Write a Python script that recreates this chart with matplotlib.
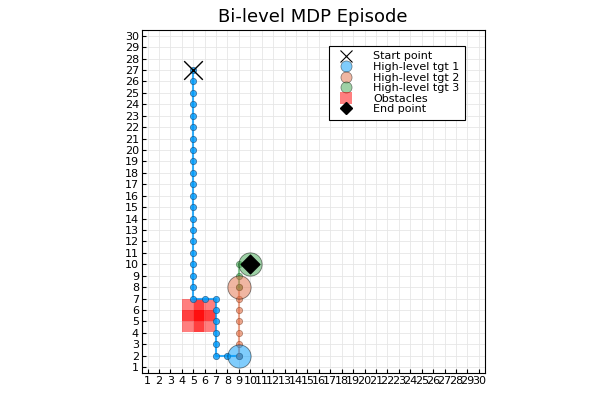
import matplotlib
matplotlib.use("Agg")
import matplotlib.pyplot as plt
from matplotlib.lines import Line2D

path1_x = [5]*21 + [6, 7] + [7]*5 + [8, 9]
path1_y = list(range(27, 6, -1)) + [7, 7] + [6, 5, 4, 3, 2] + [2, 2]
path2_x = [9]*7
path2_y = [2, 3, 4, 5, 6, 7, 8]
path3_x = [9, 9, 9, 10]
path3_y = [8, 9, 10, 10]
start = (5, 27)
tgt1 = (9, 2)
tgt2 = (9, 8)
tgt3 = (10, 10)
end = (10, 10)
obs_x = [5, 5, 6, 6]
obs_y = [5, 6, 5, 6]

blue = '#009AFA'
orange = '#E26F46'
green = '#3EA44E'

fig = plt.figure(figsize=(6, 4), dpi=100)
ax = fig.add_axes([0.233, 0.068, 0.578, 0.857])
ax.set_xlim(0.5, 30.5); ax.set_ylim(0.5, 30.5)
ax.set_aspect('equal', adjustable='box')

ax.scatter(obs_x, obs_y, marker='s', s=240, color='red', alpha=0.5, lw=0, zorder=2)
ax.plot(path1_x, path1_y, '-o', color=blue, ms=4.5, mec='#1a4e7a', mew=0.5, alpha=0.8, zorder=3)
ax.plot(path2_x, path2_y, '-o', color=orange, ms=4.5, mec='#7a3a20', mew=0.5, alpha=0.6, zorder=3)
ax.plot(path3_x, path3_y, '-o', color=green, ms=4.5, mec='#20502a', mew=0.5, alpha=0.6, zorder=3)

ax.scatter(*start, marker='x', s=180, color='black', lw=1, zorder=5)
ax.scatter(*tgt1, s=280, color=blue, alpha=0.5, edgecolor='black', lw=0.6, zorder=4)
ax.scatter(*tgt2, s=280, color=orange, alpha=0.5, edgecolor='black', lw=0.6, zorder=4)
ax.scatter(*tgt3, s=280, color=green, alpha=0.5, edgecolor='black', lw=0.6, zorder=4)
ax.scatter(*end, marker='D', s=90, color='black', zorder=6)

handles = [
    Line2D([], [], ls='', marker='x', ms=9, color='black', mew=0.8, label='Start point'),
    Line2D([], [], ls='', marker='o', ms=8, color=blue, alpha=0.5, mec='black', mew=0.5, label='High-level tgt 1'),
    Line2D([], [], ls='', marker='o', ms=8, color=orange, alpha=0.5, mec='black', mew=0.5, label='High-level tgt 2'),
    Line2D([], [], ls='', marker='o', ms=8, color=green, alpha=0.5, mec='black', mew=0.5, label='High-level tgt 3'),
    Line2D([], [], ls='', marker='s', ms=9, color='red', alpha=0.5, mew=0, label='Obstacles'),
    Line2D([], [], ls='', marker='D', ms=6, color='black', label='End point'),
]

ax.set_xticks(range(1, 31)); ax.set_yticks(range(1, 31))
ax.tick_params(labelsize=8, length=3, direction='in', pad=2)
ax.grid(True, color='#e6e6e6', lw=0.6)
ax.set_axisbelow(True)
ax.set_title('Bi-level MDP Episode', fontsize=13)
leg = ax.legend(handles=handles, loc='upper right', fontsize=8, fancybox=False, edgecolor='black',
                framealpha=1, handletextpad=1.5, labelspacing=0.05, borderpad=0.5,
                bbox_to_anchor=(0.96, 0.97))
leg.get_frame().set_linewidth(0.8)
fig.savefig('out.png', dpi=100)
